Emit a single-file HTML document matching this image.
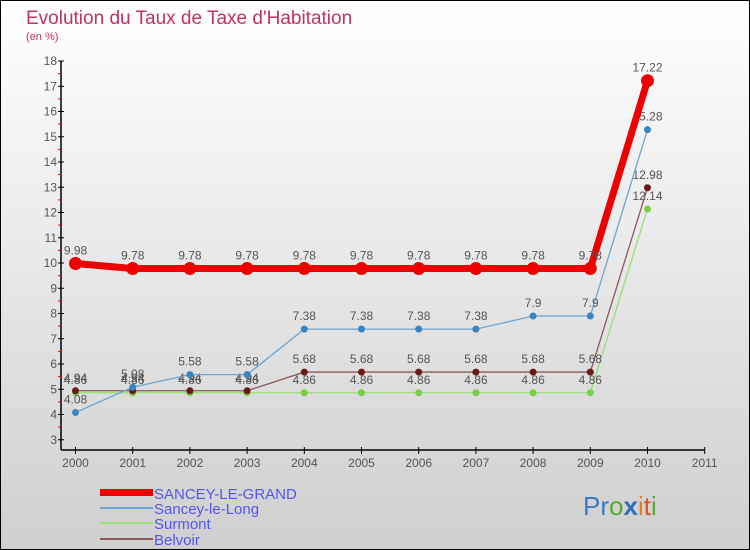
<!DOCTYPE html>
<html><head><meta charset="utf-8"><style>
html,body{margin:0;padding:0}
body{width:750px;height:550px;overflow:hidden}
svg{display:block}
text{font-family:"Liberation Sans",sans-serif}
</style></head><body>
<svg id="chart" width="750" height="550" xmlns="http://www.w3.org/2000/svg">
<defs><linearGradient id="bg" x1="0" y1="0" x2="0" y2="1"><stop offset="0" stop-color="#ffffff"/><stop offset="1" stop-color="#cfcfcf"/></linearGradient></defs>
<rect x="0.5" y="0.5" width="749" height="549" fill="url(#bg)" stroke="#000"/>
<text x="26" y="24" font-size="19" fill="#c0335f">Evolution du Taux de Taxe d'Habitation</text>
<text x="26" y="40" font-size="11" fill="#c0335f">(en %)</text>
<g id="axes"></g>
<g id="series"></g>
<g id="legend">
<rect x="100" y="489" width="53" height="7" fill="#ee0000"/>
<text x="154" y="499" font-size="15" fill="#5555ee">SANCEY-LE-GRAND</text>
<rect x="100" y="507" width="53" height="2" fill="#6fa5d0"/>
<text x="154" y="514" font-size="15" fill="#5555ee">Sancey-le-Long</text>
<rect x="100" y="522" width="53" height="2" fill="#99dd77"/>
<text x="154" y="529" font-size="15" fill="#5555ee">Surmont</text>
<rect x="100" y="538" width="53" height="2" fill="#8a5a5a"/>
<text x="154" y="545" font-size="15" fill="#5555ee">Belvoir</text>
</g>
<g font-size="26">
<text x="583" y="515"><tspan fill="#3a7bbf">Pr</tspan><tspan fill="#5aa832">o</tspan><tspan fill="#2a6fc0" font-weight="bold">x</tspan><tspan fill="#f07a10">i</tspan><tspan fill="#e05020">t</tspan><tspan fill="#5aa832">i</tspan></text>
</g>
</svg>
<script>
const years=[2000,2001,2002,2003,2004,2005,2006,2007,2008,2009,2010];
const xTicks=[2000,2001,2002,2003,2004,2005,2006,2007,2008,2009,2010,2011];
const yTicks=[3,4,5,6,7,8,9,10,11,12,13,14,15,16,17,18];
const sanceyGrand=[9.98,9.78,9.78,9.78,9.78,9.78,9.78,9.78,9.78,9.78,17.22];
const sanceyLong=[4.08,5.08,5.58,5.58,7.38,7.38,7.38,7.38,7.9,7.9,15.28];
const surmont=[4.86,4.86,4.86,4.86,4.86,4.86,4.86,4.86,4.86,4.86,12.14];
const belvoir=[4.94,4.94,4.94,4.94,5.68,5.68,5.68,5.68,5.68,5.68,12.98];
const NS='http://www.w3.org/2000/svg';
const X=y=>75.5+(y-2000)*57.2;
const Y=v=>61+(18-v)*25.25;
function mk(tag,attrs,parent){const e=document.createElementNS(NS,tag);for(const k in attrs)e.setAttribute(k,attrs[k]);parent.appendChild(e);return e;}
const axes=document.getElementById('axes');
let e=mk('line',{x1:61,y1:Y(18),x2:61,y2:450,stroke:'#000','stroke-width':1.5},axes);


e=mk('line',{x1:61,y1:450,x2:X(2011),y2:450,stroke:'#000','stroke-width':1.5},axes);


yTicks.forEach(t=>{
  mk('line',{x1:58,y1:Y(t),x2:64,y2:Y(t),stroke:'#000'},axes);
  if(t<18)mk('line',{x1:58,y1:Y(t+0.5),x2:61,y2:Y(t+0.5),stroke:'#e00'},axes);
  const l=mk('text',{x:57,y:Y(t)+4,'font-size':12,fill:'#555','text-anchor':'end'},axes);
  l.textContent=t;
  
  
});
xTicks.forEach(t=>{
  mk('line',{x1:X(t),y1:447,x2:X(t),y2:454,stroke:'#000'},axes);
  const l=mk('text',{x:X(t),y:467,'font-size':12,fill:'#555','text-anchor':'middle'},axes);
  l.textContent=t;
  
  
});
const sg=document.getElementById('series');
function draw(name,vals,color,dot,w,r){
  const g=mk('g',{},sg);
  
  
  const pts=vals.map((v,i)=>X(years[i])+','+Y(v)).join(' ');
  mk('polyline',{points:pts,fill:'none',stroke:color,'stroke-width':w},g);
  vals.forEach((v,i)=>{
    const c=mk('circle',{cx:X(years[i]),cy:Y(v),r:r,fill:dot},g);
    
    
    const t=mk('text',{x:X(years[i]),y:Y(v)-9,'font-size':12,fill:'#555','text-anchor':'middle'},g);
    t.textContent=String(v);
    
    
  });
}
draw('surmont',surmont,'#99dd77','#7ccc44',1.3,3.5);
draw('belvoir',belvoir,'#8a5a5a','#6b1a1a',1.3,3.5);
draw('sancey-le-long',sanceyLong,'#6fa5d0','#3a85c0',1.3,3.5);
draw('sancey-le-grand',sanceyGrand,'#ee0000','#ee0000',7,6.5);
</script>
</body></html>
